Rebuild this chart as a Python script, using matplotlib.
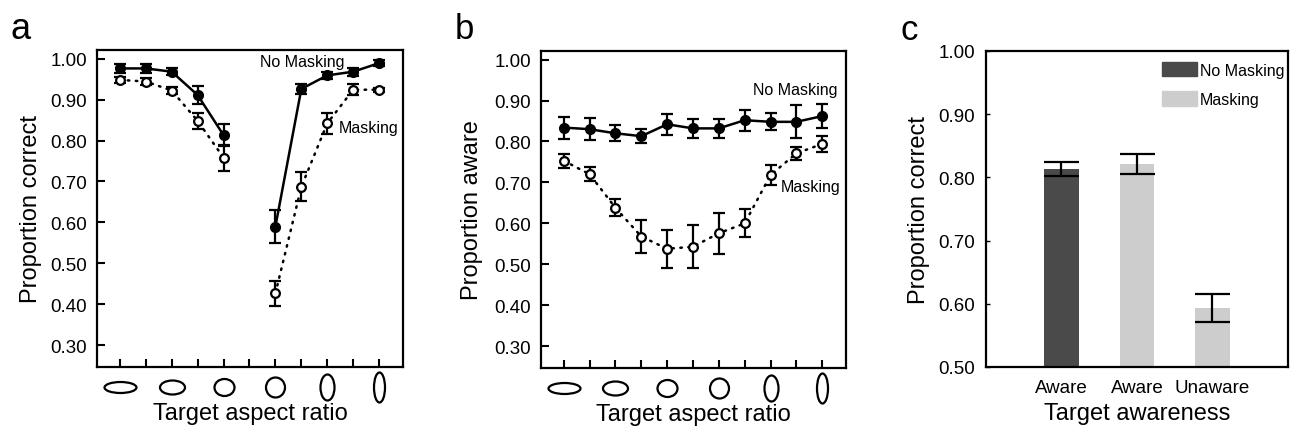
import matplotlib
matplotlib.use("Agg")
import matplotlib.pyplot as plt
import numpy as np
from matplotlib.path import Path
from matplotlib.transforms import Affine2D

plt.rcParams["font.family"] = ["Liberation Sans", "DejaVu Sans"]

# panel a: proportion correct per target aspect ratio (x=5 not tested)
a_x = np.arange(11)
a_nomask = [0.976, 0.976, 0.968, 0.911, 0.813, np.nan, 0.590, 0.926, 0.959, 0.968, 0.989]
a_nomask_err = [0.010, 0.010, 0.008, 0.022, 0.027, np.nan, 0.040, 0.012, 0.008, 0.010, 0.007]
a_mask = [0.948, 0.944, 0.922, 0.848, 0.758, np.nan, 0.427, 0.687, 0.842, 0.924, 0.924]
a_mask_err = [0.007, 0.008, 0.008, 0.020, 0.032, np.nan, 0.030, 0.035, 0.026, 0.013, 0.005]

# panel b: proportion aware per target aspect ratio
b_x = np.arange(11)
b_nomask = [0.834, 0.830, 0.820, 0.813, 0.842, 0.832, 0.832, 0.852, 0.848, 0.848, 0.862]
b_nomask_err = [0.027, 0.027, 0.020, 0.017, 0.025, 0.024, 0.024, 0.026, 0.021, 0.040, 0.029]
b_mask = [0.753, 0.720, 0.638, 0.568, 0.538, 0.543, 0.576, 0.600, 0.718, 0.771, 0.794]
b_mask_err = [0.017, 0.017, 0.021, 0.041, 0.047, 0.052, 0.050, 0.034, 0.025, 0.016, 0.020]

# panel c: proportion correct by awareness
c_labels = ["Aware", "Aware", "Unaware"]
c_values = [0.8135, 0.821, 0.593]
c_err = [0.0115, 0.016, 0.022]
c_group = ["No Masking", "Masking", "Masking"]

# aspect-ratio glyphs shown under every second tick (width, height in px)
glyph_x = [0, 2, 4, 6, 8, 10]
glyph_w = [32, 25, 20, 19, 14, 11]
glyph_h = [11, 14, 17, 20, 26, 30]

DPI = 100
PX = 72 / DPI
fig = plt.figure(figsize=(12.9, 4.31), dpi=DPI)

ax_a = fig.add_axes([0.0752, 0.1462, 0.2372, 0.7355])
ax_b = fig.add_axes([0.4194, 0.1439, 0.2364, 0.7355])
ax_c = fig.add_axes([0.7643, 0.1462, 0.2341, 0.7332])

dotted = (0, (0.6, 2.6))


def line_panel(ax, x, nm, nm_err, m, m_err, ylabel):
    ax.errorbar(x, nm, yerr=nm_err, fmt="-o", color="black", lw=1.8,
                ms=7, elinewidth=1.6, capsize=4.2, capthick=1.6, zorder=3)
    ax.errorbar(x, m, yerr=m_err, fmt="o", color="black", mfc="white",
                mec="black", mew=1.6, ms=6.3, elinewidth=1.6,
                capsize=4.2, capthick=1.6, zorder=4)
    ax.plot(x, m, color="black", lw=1.8, linestyle=dotted,
            dash_capstyle="round", zorder=2)
    ax.set_xlim(-0.88, 10.92)
    ax.set_ylim(0.247, 1.021)
    ax.set_yticks(np.arange(0.3, 1.001, 0.1))
    ax.set_yticklabels([f"{v:.2f}" for v in np.arange(0.3, 1.001, 0.1)])
    ax.set_xticks(x)
    ax.set_xticklabels([])
    ax.tick_params(direction="in", length=5.8, width=1.5, labelsize=13.5, pad=7)
    for s in ax.spines.values():
        s.set_linewidth(1.6)
    ax.set_ylabel(ylabel, fontsize=17)
    ax.yaxis.set_label_coords(-0.18, 0.5)
    ax.set_xlabel("Target aspect ratio", fontsize=17)
    ax.xaxis.set_label_coords(0.5, -0.11)
    # ellipse glyphs under the axis
    for gx, w, h in zip(glyph_x, glyph_w, glyph_h):
        verts = Affine2D().scale(w, h).transform_path(Path.unit_circle())
        ax.plot([gx], [-0.063], marker=verts, ms=max(w, h) * PX,
                mfc="none", mec="black", mew=1.6, linestyle="none",
                transform=ax.get_xaxis_transform(), clip_on=False)


line_panel(ax_a, a_x, a_nomask, a_nomask_err, a_mask, a_mask_err, "Proportion correct")
ax_a.text(7.05, 0.993, "No Masking", fontsize=11.5, ha="center", va="center")
ax_a.text(9.6, 0.832, "Masking", fontsize=11.5, ha="center", va="center")

line_panel(ax_b, b_x, b_nomask, b_nomask_err, b_mask, b_mask_err, "Proportion aware")
ax_b.yaxis.set_label_coords(-0.19, 0.5)
ax_b.text(8.94, 0.927, "No Masking", fontsize=11.5, ha="center", va="center")
ax_b.text(9.56, 0.690, "Masking", fontsize=11.5, ha="center", va="center")

# panel c bars
colors = {"No Masking": "#4a4a4a", "Masking": "#cdcdcd"}
c_pos = np.arange(len(c_labels))
for p, v, g in zip(c_pos, c_values, c_group):
    ax_c.bar(p, v - 0.5, bottom=0.5, width=0.46, color=colors[g], zorder=2)
ax_c.errorbar(c_pos, c_values, yerr=c_err, fmt="none", ecolor="black",
              elinewidth=1.6, capsize=12.6, capthick=1.6, zorder=3)
ax_c.set_xlim(-1, 3)
ax_c.set_ylim(0.5, 1.0)
ax_c.set_yticks(np.arange(0.5, 1.001, 0.1))
ax_c.set_yticklabels([f"{v:.2f}" for v in np.arange(0.5, 1.001, 0.1)])
ax_c.set_xticks(c_pos)
ax_c.set_xticklabels(c_labels)
ax_c.tick_params(axis="y", direction="in", length=3, width=1, labelsize=13.5, pad=8)
ax_c.tick_params(axis="x", length=0, labelsize=13.5, pad=9)
for s in ax_c.spines.values():
    s.set_linewidth(1.6)
ax_c.set_ylabel("Proportion correct", fontsize=17)
ax_c.yaxis.set_label_coords(-0.185, 0.5)
ax_c.set_xlabel("Target awareness", fontsize=17)
ax_c.xaxis.set_label_coords(0.5, -0.11)

handles = [plt.Rectangle((0, 0), 1, 1, color=colors[k]) for k in ["No Masking", "Masking"]]
ax_c.legend(handles, ["No Masking", "Masking"], loc="upper left",
            bbox_to_anchor=(0.583, 0.965), frameon=False, fontsize=11.5,
            handlelength=2.2, handleheight=1.0, handletextpad=0.15,
            labelspacing=0.85, borderpad=0, borderaxespad=0)

# panel letters
fig.text(11 / 1290, 1 - 39 / 431, "a", fontsize=26, va="baseline")
fig.text(455 / 1290, 1 - 39 / 431, "b", fontsize=25, va="baseline")
fig.text(900 / 1290, 1 - 40 / 431, "c", fontsize=25, va="baseline")

fig.savefig("out.png", dpi=DPI)
